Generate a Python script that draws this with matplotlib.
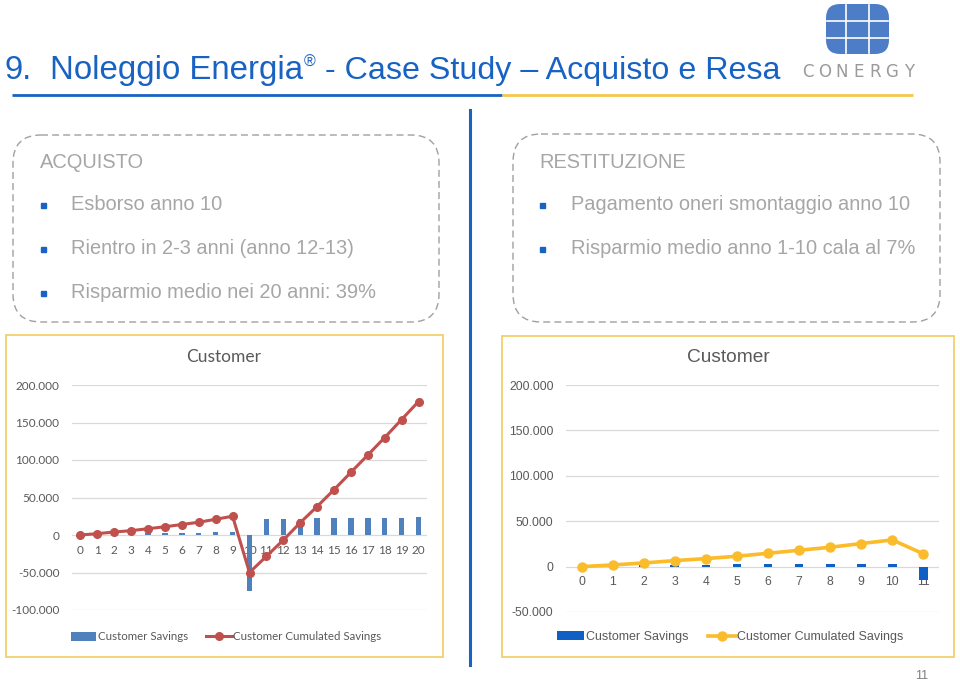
import matplotlib
matplotlib.use("Agg")
import matplotlib.pyplot as plt
from matplotlib.patches import FancyBboxPatch, Rectangle
from matplotlib.ticker import FuncFormatter

W, H = 960, 683

# --- data ---
years_buy = list(range(21))
savings_buy = [0, 1800, 2100, 2300, 2500, 2700, 2900, 3100, 3400, 3600,
               -75000, 21600, 21800, 22000, 22200, 22400, 22600, 22800, 23100, 23300, 23500]
cumulated_buy = [0, 1800, 4000, 5800, 8400, 11000, 14000, 17000, 21000, 25000,
                 -50000, -28400, -6700, 16400, 38000, 60400, 83600, 106700, 130000, 154000, 178000]
ticks_buy = [-100000, -50000, 0, 50000, 100000, 150000, 200000]

years_ret = list(range(12))
savings_ret = [0, 500, 1500, 2000, 2200, 2400, 2600, 2800, 3000, 3200, 3400, -15000]
cumulated_ret = [0, 1800, 4000, 6600, 8800, 11400, 14700, 18000, 21300, 25400, 29400, 14000]
ticks_ret = [-50000, 0, 50000, 100000, 150000, 200000]

series_names = ["Customer Savings", "Customer Cumulated Savings"]
buy_head = "ACQUISTO"
buy_notes = ["Esborso anno 10", "Rientro in 2-3 anni (anno 12-13)",
             "Risparmio medio nei 20 anni: 39%"]
ret_head = "RESTITUZIONE"
ret_notes = ["Pagamento oneri smontaggio anno 10", "Risparmio medio anno 1-10 cala al 7%"]

BLUE = "#1862C3"
GREY_TXT = "#A6A6A6"
LABEL = "#595959"
FRAME = "#F2D06B"


def dot_thousands(v, pos=None):
    return f"{v:,.0f}".replace(",", ".")


fig = plt.figure(figsize=(9.6, 6.83), dpi=100)
bg = fig.add_axes([0, 0, 1, 1], zorder=0)
bg.set_xlim(0, W)
bg.set_ylim(H, 0)
bg.axis("off")


def px_axes(x0, y0, x1, y1):
    return fig.add_axes([x0 / W, 1 - y1 / H, (x1 - x0) / W, (y1 - y0) / H], zorder=2)


# --- header ---
r = fig.canvas.get_renderer()
bg.text(4, 79, "9.", family="Liberation Sans", size=23.5, color=BLUE, va="baseline")
t1 = bg.text(50, 79, "Noleggio Energia", family="Liberation Sans", size=23.8, color=BLUE,
             va="baseline")
x = t1.get_window_extent(r).x1
t2 = bg.text(x + 1, 67, "®", family="Liberation Sans", size=11.5, color=BLUE, va="baseline")
x = t2.get_window_extent(r).x1
bg.text(x, 79, " - Case Study – Acquisto e Resa", family="Liberation Sans", size=23.2,
        color=BLUE, va="baseline")
bg.plot([12, 502], [95, 95], color=BLUE, lw=2, solid_capstyle="butt")
bg.plot([502, 913], [95, 95], color="#F2C94C", lw=2, solid_capstyle="butt")

# logo
bg.add_patch(FancyBboxPatch((826, 4), 63, 50, boxstyle="round,pad=0,rounding_size=14",
                            fc="#4D7DC6", ec="none"))
for lx in [846, 869]:
    bg.plot([lx, lx], [5, 53], color="white", lw=1.2)
for ly in [21, 38]:
    bg.plot([827, 888], [ly, ly], color="white", lw=1.2)
for i, ch in enumerate("CONERGY"):
    bg.text(808 + i * 16.8, 72, ch, family="DejaVu Sans", size=12, color="#9A9A9A",
            ha="center", va="center")

# divider
bg.plot([470, 470], [110, 665], color=BLUE, lw=2.2)

# --- note boxes ---
bg.add_patch(FancyBboxPatch((13, 135), 426, 187, boxstyle="round,pad=0,rounding_size=28",
                            fill=False, ec="#A0A0A0", lw=1, ls=(0, (5, 3))))
bg.add_patch(FancyBboxPatch((513, 134), 427, 188, boxstyle="round,pad=0,rounding_size=28",
                            fill=False, ec="#A0A0A0", lw=1, ls=(0, (5, 3))))

bg.text(40, 162, buy_head, family="Liberation Sans", size=14.4, color=GREY_TXT, va="center")
for i, note in enumerate(buy_notes):
    y = 205 + i * 44
    bg.add_patch(Rectangle((41, y - 2.5), 5, 5, color=BLUE))
    bg.text(71, y, note, family="Liberation Sans", size=14.4, color=GREY_TXT, va="center")

bg.text(539, 162, ret_head, family="Liberation Sans", size=14.4, color=GREY_TXT, va="center")
for i, note in enumerate(ret_notes):
    y = 205 + i * 44
    bg.add_patch(Rectangle((540, y - 2.5), 5, 5, color=BLUE))
    bg.text(571, y, note, family="Liberation Sans", size=14.4, color=GREY_TXT, va="center")

# chart frames
bg.add_patch(Rectangle((6, 335), 437, 322, fill=False, ec=FRAME, lw=1.3))
bg.add_patch(Rectangle((502, 336), 452, 321, fill=False, ec=FRAME, lw=1.3))


def draw_chart(ax, years, savings, cumulated, ticks, bar_color, line_color,
               font, size, pad, bar_w, lw, ms):
    ax.set_facecolor("none")
    bars = ax.bar(years, savings, width=bar_w, color=bar_color, zorder=2)
    line, = ax.plot(years, cumulated, color=line_color, lw=lw, marker="o", ms=ms, zorder=3)
    ax.set_xlim(-0.5, len(years) - 0.5)
    ax.set_ylim(ticks[0], ticks[-1])
    ax.set_yticks(ticks)
    ax.set_xticks(years)
    ax.yaxis.set_major_formatter(FuncFormatter(dot_thousands))
    ax.set_axisbelow(True)
    ax.grid(axis="y", color="#D9D9D9", lw=0.9)
    for s in ["top", "right", "left"]:
        ax.spines[s].set_visible(False)
    ax.spines["bottom"].set_position(("data", 0))
    ax.spines["bottom"].set_color("none")
    ax.tick_params(length=0, labelcolor=LABEL)
    ax.tick_params(axis="x", pad=pad)
    ax.tick_params(axis="y", pad=9)
    for lab in ax.get_xticklabels() + ax.get_yticklabels():
        lab.set_family(font)
        lab.set_fontsize(size)
    return bars, line


ax1 = px_axes(72, 385, 427, 610)
b1, l1 = draw_chart(ax1, years_buy, savings_buy, cumulated_buy, ticks_buy,
                    "#4F81BD", "#C0504D", "Lato", 8.5, 7, 0.32, 2.2, 5.5)
bg.text(224, 357, "Customer", family="Lato", size=12.5, color=LABEL, ha="center", va="center")
ax1.legend([b1, l1], series_names, loc="center", bbox_to_anchor=(226 / W, 1 - 637 / H),
           bbox_transform=fig.transFigure, ncol=2, frameon=False, handlelength=2.2,
           handletextpad=0.1, columnspacing=1.6, labelcolor=LABEL,
           prop={"family": "Lato", "size": 8.3})

ax2 = px_axes(566, 385, 939, 612)
b2, l2 = draw_chart(ax2, years_ret, savings_ret, cumulated_ret, ticks_ret,
                    "#0F5FC4", "#FBBC2C", "Liberation Sans", 8.8, 7, 0.28, 2.6, 6.5)
bg.text(728, 357, "Customer", family="Liberation Sans", size=13.8, color=LABEL,
        ha="center", va="center")
ax2.legend([b2, l2], series_names, loc="center", bbox_to_anchor=(730 / W, 1 - 637 / H),
           bbox_transform=fig.transFigure, ncol=2, frameon=False, handlelength=2.2,
           handletextpad=0.1, columnspacing=1.6, labelcolor=LABEL,
           prop={"family": "Liberation Sans", "size": 9})

bg.text(922, 676, "11", family="Liberation Sans", size=9, color="#7F7F7F",
        ha="center", va="center")

fig.savefig("out.png", dpi=100)
